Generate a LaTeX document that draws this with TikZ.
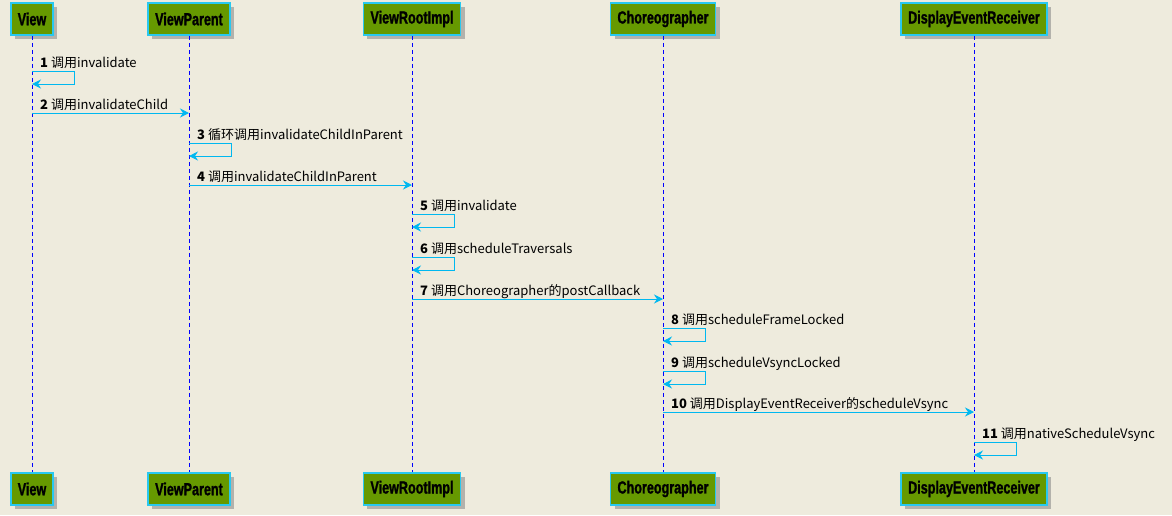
\documentclass[tikz,border=0pt]{standalone}
\usepackage{fontspec}
\setmainfont{Noto Sans CJK SC}
\newfontfamily\boxfont[FakeStretch=0.72, FakeBold=1.2]{Liberation Sans}
\usetikzlibrary{arrows.meta, shadows}
\definecolor{bgcolor}{RGB}{238, 235, 221}
\definecolor{boxgreen}{RGB}{102, 153, 0}
\definecolor{boxline}{RGB}{40, 200, 240}
\definecolor{arrowblue}{RGB}{0, 184, 240}
\tikzset{>=latex}

\begin{document}
\begin{tikzpicture}[
    x = 1pt, y = -1pt,
    actor/.style = {draw = boxline, fill = boxgreen, text = black, line width = 1.5pt, minimum height = 32pt, inner xsep = 7pt, font = \boxfont\bfseries\fontsize{17.5}{19}\selectfont, drop shadow = {shadow xshift = 4pt, shadow yshift = -4pt, fill = black!45, opacity = 0.6}},
    life/.style = {blue, dash pattern = on 4pt off 3pt, line width = 0.8pt},
    msg/.style = {arrowblue, line width = 0.9pt, -{Stealth[length = 9pt, width = 9pt, inset = 3pt]}},
    lbl/.style = {anchor = base west, inner sep = 0pt, text = black, font = \fontsize{13}{15}\selectfont},
]

\fill[bgcolor] (0,0) rectangle (1172,515);

% participants, top and bottom
\node[actor] (view) at (32, 19) {View};
\node[actor] (parent) at (189, 19) {ViewParent};
\node[actor] (root) at (412, 19) {ViewRootImpl};
\node[actor] (choreo) at (663, 19) {Choreographer};
\node[actor] (receiver) at (974, 19) {DisplayEventReceiver};

\node[actor] (view2) at (32, 489) {View};
\node[actor] (parent2) at (189, 489) {ViewParent};
\node[actor] (root2) at (412, 489) {ViewRootImpl};
\node[actor] (choreo2) at (663, 489) {Choreographer};
\node[actor] (receiver2) at (974, 489) {DisplayEventReceiver};

\foreach \p in {view, parent, root, choreo, receiver}
    \draw[life] (\p.south) -- (\p2.north);

% messages
\node[lbl] (m1) at ([xshift = 8pt] view |- 0, 67) {\textbf{1} 调用invalidate};
\draw[msg] (view |- 0, 71) -- ++(42, 0) -- ++(0, 13) -- (view |- 0, 84);

\node[lbl] (m2) at ([xshift = 8pt] view |- 0, 109) {\textbf{2} 调用invalidateChild};
\draw[msg] (view |- 0, 113) -- (parent |- 0, 113);

\node[lbl] (m3) at ([xshift = 8pt] parent |- 0, 139) {\textbf{3} 循环调用invalidateChildInParent};
\draw[msg] (parent |- 0, 143) -- ++(42, 0) -- ++(0, 13) -- (parent |- 0, 156);

\node[lbl] (m4) at ([xshift = 8pt] parent |- 0, 181) {\textbf{4} 调用invalidateChildInParent};
\draw[msg] (parent |- 0, 185) -- (root |- 0, 185);

\node[lbl] (m5) at ([xshift = 8pt] root |- 0, 210) {\textbf{5} 调用invalidate};
\draw[msg] (root |- 0, 214) -- ++(42, 0) -- ++(0, 13) -- (root |- 0, 227);

\node[lbl] (m6) at ([xshift = 8pt] root |- 0, 253) {\textbf{6} 调用scheduleTraversals};
\draw[msg] (root |- 0, 257) -- ++(42, 0) -- ++(0, 13) -- (root |- 0, 270);

\node[lbl] (m7) at ([xshift = 8pt] root |- 0, 295) {\textbf{7} 调用Choreographer的postCallback};
\draw[msg] (root |- 0, 299) -- (choreo |- 0, 299);

\node[lbl] (m8) at ([xshift = 8pt] choreo |- 0, 324) {\textbf{8} 调用scheduleFrameLocked};
\draw[msg] (choreo |- 0, 328) -- ++(42, 0) -- ++(0, 13) -- (choreo |- 0, 341);

\node[lbl] (m9) at ([xshift = 8pt] choreo |- 0, 367) {\textbf{9} 调用scheduleVsyncLocked};
\draw[msg] (choreo |- 0, 371) -- ++(42, 0) -- ++(0, 13) -- (choreo |- 0, 384);

\node[lbl] (m10) at ([xshift = 8pt] choreo |- 0, 408) {\textbf{10} 调用DisplayEventReceiver的scheduleVsync};
\draw[msg] (choreo |- 0, 412) -- (receiver |- 0, 412);

\node[lbl] (m11) at ([xshift = 8pt] receiver |- 0, 438) {\textbf{11} 调用nativeScheduleVsync};
\draw[msg] (receiver |- 0, 442) -- ++(42, 0) -- ++(0, 13) -- (receiver |- 0, 455);

\end{tikzpicture}
\end{document}
